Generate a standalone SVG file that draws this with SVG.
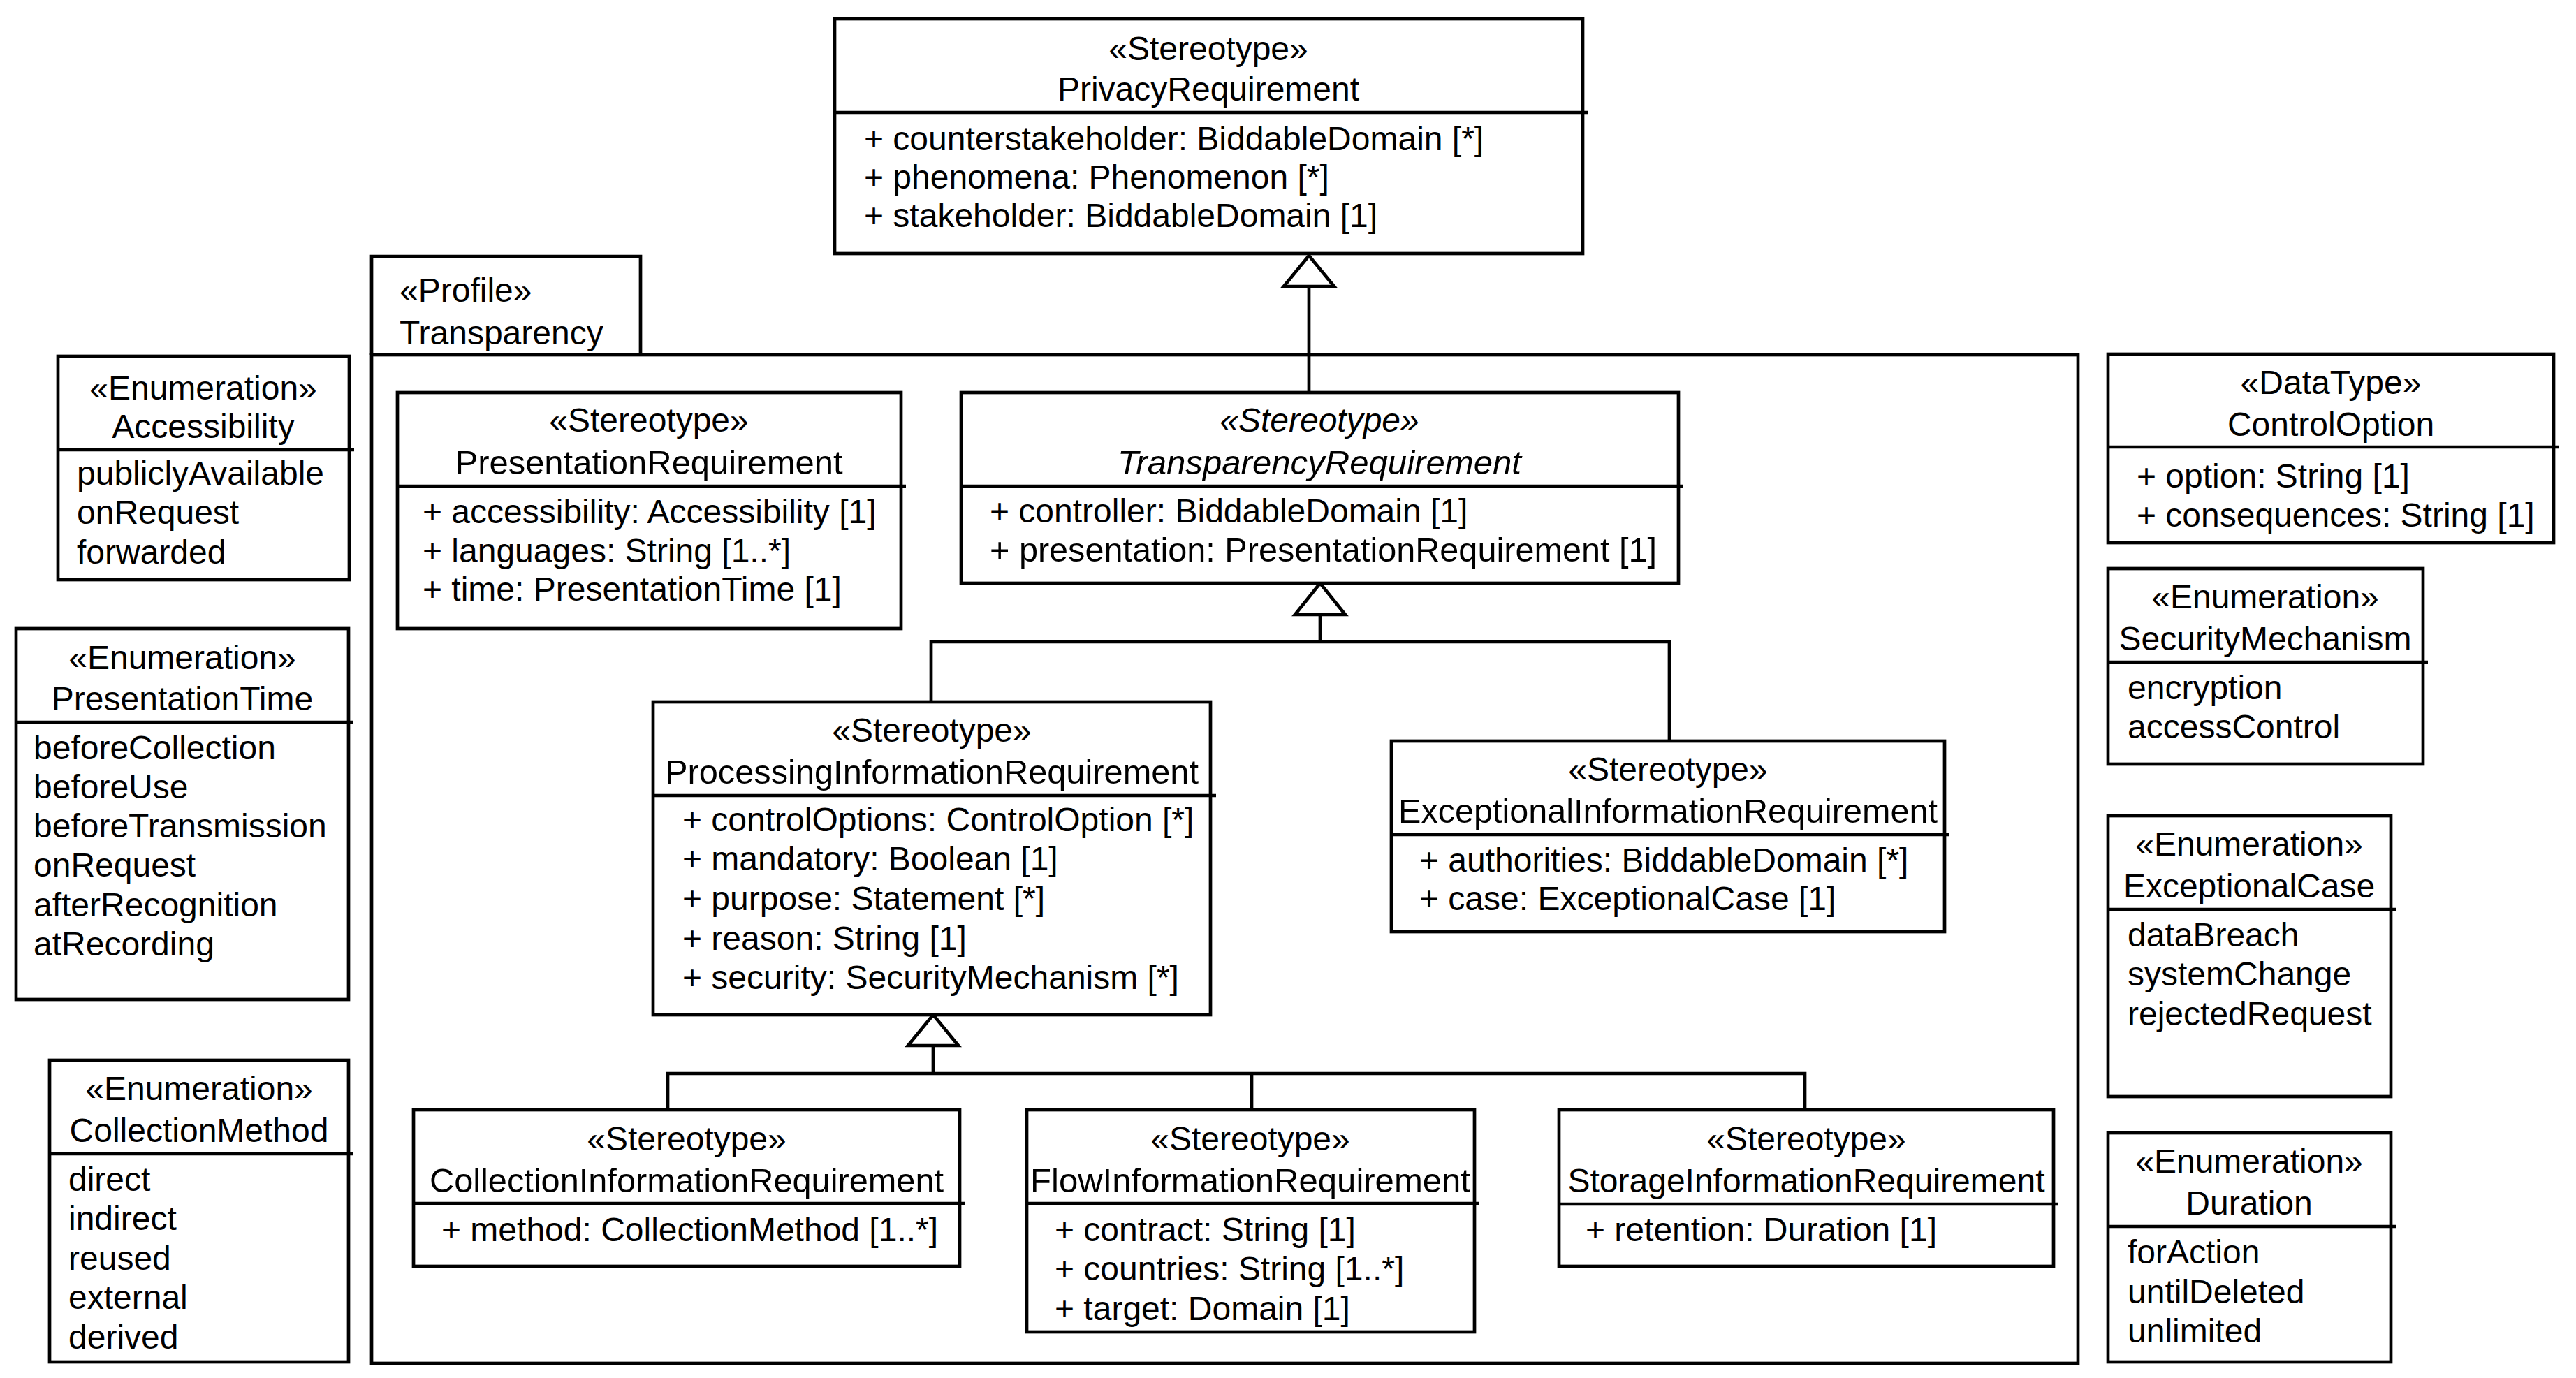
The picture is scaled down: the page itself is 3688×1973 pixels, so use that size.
<svg xmlns="http://www.w3.org/2000/svg" width="3688" height="1973" viewBox="0 0 3688 1973">
<style>
.bg{fill:#fff}
.box{fill:#fff;stroke:#000;stroke-width:4.7}
.sep{stroke:#000;stroke-width:4.7}
.pkg{fill:none;stroke:#000;stroke-width:4.7}
.conn{fill:none;stroke:#000;stroke-width:4.7}
.tri{fill:#fff;stroke:#000;stroke-width:4.7;stroke-linejoin:miter}
.t{font-family:"Liberation Sans",Arial,Helvetica,sans-serif;font-size:48px;fill:#000}
.c{text-anchor:middle}
.i{font-style:italic}
</style>
<rect class="bg" x="0" y="0" width="3688" height="1973"/>

<g id="pkg-transparency">
<path class="pkg" d="M532,508 V367 H917 V508"/>
<rect class="pkg" x="532" y="508" width="2443" height="1444"/>
<text class="t" x="572" y="432">«Profile»</text>
<text class="t" x="572" y="493">Transparency</text>
</g>

<g id="connectors">
<line class="conn" x1="1874" y1="410" x2="1874" y2="562"/>
<polygon class="tri" points="1874,366 1838,410 1910,410"/>
<path class="conn" d="M1890,880 V919 M1333,1005 V919 H2390 V1061"/>
<polygon class="tri" points="1890,835 1854,880 1926,880"/>
<path class="conn" d="M1336,1497 V1537 M956,1589 V1537 H2584 V1589 M1792,1537 V1589"/>
<polygon class="tri" points="1336,1453 1300,1497 1372,1497"/>
</g>

<g id="PrivacyRequirement">
<rect class="box" x="1195" y="27" width="1071" height="336"/>
<line class="sep" x1="1195" y1="161" x2="2273" y2="161"/>
<text class="t c" x="1730" y="86">«Stereotype»</text>
<text class="t c" x="1730" y="144">PrivacyRequirement</text>
<text class="t" x="1237" y="215">+ counterstakeholder: BiddableDomain [*]</text>
<text class="t" x="1237" y="270">+ phenomena: Phenomenon [*]</text>
<text class="t" x="1237" y="325">+ stakeholder: BiddableDomain [1]</text>
</g>

<g id="Accessibility">
<rect class="box" x="83" y="510" width="417" height="320"/>
<line class="sep" x1="83" y1="644" x2="507" y2="644"/>
<text class="t c" x="291" y="572">«Enumeration»</text>
<text class="t c" x="291" y="627">Accessibility</text>
<text class="t" x="110" y="694">publiclyAvailable</text>
<text class="t" x="110" y="750">onRequest</text>
<text class="t" x="110" y="807">forwarded</text>
</g>

<g id="PresentationTime">
<rect class="box" x="23" y="900" width="476" height="531"/>
<line class="sep" x1="23" y1="1034" x2="506" y2="1034"/>
<text class="t c" x="261" y="958">«Enumeration»</text>
<text class="t c" x="261" y="1017">PresentationTime</text>
<text class="t" x="48" y="1087">beforeCollection</text>
<text class="t" x="48" y="1143">beforeUse</text>
<text class="t" x="48" y="1199">beforeTransmission</text>
<text class="t" x="48" y="1255">onRequest</text>
<text class="t" x="48" y="1312">afterRecognition</text>
<text class="t" x="48" y="1368">atRecording</text>
</g>

<g id="CollectionMethod">
<rect class="box" x="71" y="1518" width="428" height="432"/>
<line class="sep" x1="71" y1="1652" x2="506" y2="1652"/>
<text class="t c" x="285" y="1575">«Enumeration»</text>
<text class="t c" x="285" y="1635">CollectionMethod</text>
<text class="t" x="98" y="1705">direct</text>
<text class="t" x="98" y="1761">indirect</text>
<text class="t" x="98" y="1818">reused</text>
<text class="t" x="98" y="1874">external</text>
<text class="t" x="98" y="1931">derived</text>
</g>

<g id="ControlOption">
<rect class="box" x="3018" y="507" width="638" height="270"/>
<line class="sep" x1="3018" y1="640" x2="3663" y2="640"/>
<text class="t c" x="3337" y="564">«DataType»</text>
<text class="t c" x="3337" y="624">ControlOption</text>
<text class="t" x="3059" y="698">+ option: String [1]</text>
<text class="t" x="3059" y="754">+ consequences: String [1]</text>
</g>

<g id="SecurityMechanism">
<rect class="box" x="3018" y="814" width="451" height="280"/>
<line class="sep" x1="3018" y1="948" x2="3476" y2="948"/>
<text class="t c" x="3243" y="871">«Enumeration»</text>
<text class="t c" x="3243" y="931">SecurityMechanism</text>
<text class="t" x="3046" y="1001">encryption</text>
<text class="t" x="3046" y="1057">accessControl</text>
</g>

<g id="ExceptionalCase">
<rect class="box" x="3018" y="1168" width="405" height="402"/>
<line class="sep" x1="3018" y1="1302" x2="3430" y2="1302"/>
<text class="t c" x="3220" y="1225">«Enumeration»</text>
<text class="t c" x="3220" y="1285">ExceptionalCase</text>
<text class="t" x="3046" y="1355">dataBreach</text>
<text class="t" x="3046" y="1411">systemChange</text>
<text class="t" x="3046" y="1468">rejectedRequest</text>
</g>

<g id="Duration">
<rect class="box" x="3018" y="1622" width="405" height="328"/>
<line class="sep" x1="3018" y1="1756" x2="3430" y2="1756"/>
<text class="t c" x="3220" y="1679">«Enumeration»</text>
<text class="t c" x="3220" y="1739">Duration</text>
<text class="t" x="3046" y="1809">forAction</text>
<text class="t" x="3046" y="1866">untilDeleted</text>
<text class="t" x="3046" y="1922">unlimited</text>
</g>

<g id="PresentationRequirement">
<rect class="box" x="569" y="562" width="721" height="338"/>
<line class="sep" x1="569" y1="696" x2="1297" y2="696"/>
<text class="t c" x="929" y="618">«Stereotype»</text>
<text class="t c" x="929" y="679" textLength="555" lengthAdjust="spacingAndGlyphs">PresentationRequirement</text>
<text class="t" x="605" y="749">+ accessibility: Accessibility [1]</text>
<text class="t" x="605" y="805">+ languages: String [1..*]</text>
<text class="t" x="605" y="860">+ time: PresentationTime [1]</text>
</g>

<g id="TransparencyRequirement">
<rect class="box" x="1376" y="562" width="1027" height="273"/>
<line class="sep" x1="1376" y1="696" x2="2410" y2="696"/>
<text class="t c i" x="1889" y="618">«Stereotype»</text>
<text class="t c i" x="1889" y="679" textLength="578" lengthAdjust="spacingAndGlyphs">TransparencyRequirement</text>
<text class="t" x="1417" y="748">+ controller: BiddableDomain [1]</text>
<text class="t" x="1417" y="804" textLength="955" lengthAdjust="spacingAndGlyphs">+ presentation: PresentationRequirement [1]</text>
</g>

<g id="ProcessingInformationRequirement">
<rect class="box" x="935" y="1005" width="798" height="448"/>
<line class="sep" x1="935" y1="1139" x2="1741" y2="1139"/>
<text class="t c" x="1334" y="1062">«Stereotype»</text>
<text class="t c" x="1334" y="1122" textLength="764" lengthAdjust="spacingAndGlyphs">ProcessingInformationRequirement</text>
<text class="t" x="977" y="1190">+ controlOptions: ControlOption [*]</text>
<text class="t" x="977" y="1246">+ mandatory: Boolean [1]</text>
<text class="t" x="977" y="1303">+ purpose: Statement [*]</text>
<text class="t" x="977" y="1360">+ reason: String [1]</text>
<text class="t" x="977" y="1416">+ security: SecurityMechanism [*]</text>
</g>

<g id="ExceptionalInformationRequirement">
<rect class="box" x="1992" y="1061" width="792" height="273"/>
<line class="sep" x1="1992" y1="1195" x2="2791" y2="1195"/>
<text class="t c" x="2388" y="1118">«Stereotype»</text>
<text class="t c" x="2388" y="1178" textLength="772" lengthAdjust="spacingAndGlyphs">ExceptionalInformationRequirement</text>
<text class="t" x="2032" y="1248">+ authorities: BiddableDomain [*]</text>
<text class="t" x="2032" y="1303">+ case: ExceptionalCase [1]</text>
</g>

<g id="CollectionInformationRequirement">
<rect class="box" x="592" y="1589" width="782" height="224"/>
<line class="sep" x1="592" y1="1723" x2="1381" y2="1723"/>
<text class="t c" x="983" y="1647">«Stereotype»</text>
<text class="t c" x="983" y="1707" textLength="736" lengthAdjust="spacingAndGlyphs">CollectionInformationRequirement</text>
<text class="t" x="632" y="1777">+ method: CollectionMethod [1..*]</text>
</g>

<g id="FlowInformationRequirement">
<rect class="box" x="1470" y="1589" width="641" height="318"/>
<line class="sep" x1="1470" y1="1723" x2="2118" y2="1723"/>
<text class="t c" x="1790" y="1647">«Stereotype»</text>
<text class="t c" x="1790" y="1707" textLength="630" lengthAdjust="spacingAndGlyphs">FlowInformationRequirement</text>
<text class="t" x="1510" y="1777">+ contract: String [1]</text>
<text class="t" x="1510" y="1833">+ countries: String [1..*]</text>
<text class="t" x="1510" y="1890">+ target: Domain [1]</text>
</g>

<g id="StorageInformationRequirement">
<rect class="box" x="2232" y="1589" width="708" height="224"/>
<line class="sep" x1="2232" y1="1724" x2="2947" y2="1724"/>
<text class="t c" x="2586" y="1647">«Stereotype»</text>
<text class="t c" x="2586" y="1707">StorageInformationRequirement</text>
<text class="t" x="2270" y="1777">+ retention: Duration [1]</text>
</g>
</svg>
